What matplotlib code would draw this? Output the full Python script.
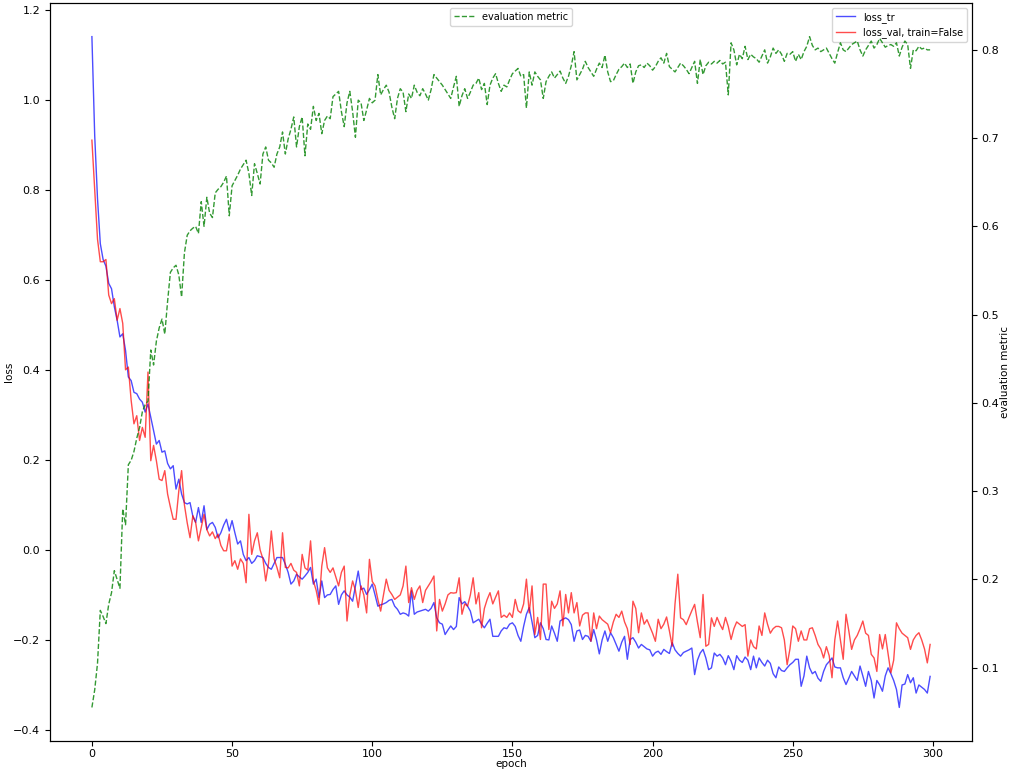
import numpy as np
import matplotlib
matplotlib.use("Agg")
import matplotlib.pyplot as plt

# values, one row = 10 epochs
loss_tr = [
    1.14, 0.92, 0.78, 0.68, 0.645, 0.63, 0.592, 0.58, 0.54, 0.51,
    0.473, 0.48, 0.443, 0.384, 0.376, 0.35, 0.347, 0.335, 0.328, 0.306,
    0.324, 0.295, 0.265, 0.235, 0.243, 0.217, 0.22, 0.192, 0.18, 0.187,
    0.135, 0.157, 0.124, 0.105, 0.102, 0.105, 0.075, 0.061, 0.094, 0.061,
    0.098, 0.045, 0.057, 0.061, 0.05, 0.027, 0.038, 0.055, 0.068, 0.042,
    0.065, 0.038, 0.013, 0.02, -0.01, -0.024, -0.017, -0.03, -0.024, -0.013,
    -0.015, -0.017, -0.03, -0.039, -0.043, -0.03, -0.017, -0.017, -0.017, -0.032,
    -0.05, -0.076, -0.069, -0.054, -0.06, -0.065, -0.058, -0.05, -0.039, -0.076,
    -0.065, -0.106, -0.069, -0.106, -0.1, -0.099, -0.088, -0.08, -0.121, -0.1,
    -0.091, -0.1, -0.105, -0.114, -0.08, -0.047, -0.088, -0.085, -0.099, -0.088,
    -0.076, -0.1, -0.125, -0.122, -0.12, -0.117, -0.112, -0.11, -0.125, -0.132,
    -0.143, -0.14, -0.142, -0.147, -0.091, -0.143, -0.138, -0.136, -0.134, -0.132,
    -0.136, -0.13, -0.117, -0.151, -0.162, -0.165, -0.188, -0.178, -0.169, -0.177,
    -0.17, -0.106, -0.12, -0.115, -0.125, -0.136, -0.162, -0.158, -0.154, -0.165,
    -0.173, -0.163, -0.154, -0.192, -0.192, -0.192, -0.18, -0.173, -0.175, -0.165,
    -0.162, -0.17, -0.19, -0.203, -0.17, -0.143, -0.128, -0.16, -0.195, -0.19,
    -0.162, -0.175, -0.199, -0.2, -0.169, -0.185, -0.203, -0.158, -0.154, -0.151,
    -0.155, -0.166, -0.203, -0.18, -0.178, -0.199, -0.19, -0.192, -0.203, -0.177,
    -0.2, -0.231, -0.2, -0.18, -0.203, -0.184, -0.195, -0.21, -0.225, -0.205,
    -0.192, -0.243, -0.199, -0.195, -0.205, -0.218, -0.21, -0.215, -0.22, -0.222,
    -0.236, -0.228, -0.225, -0.232, -0.221, -0.226, -0.23, -0.206, -0.222, -0.23,
    -0.236, -0.228, -0.225, -0.222, -0.218, -0.277, -0.245, -0.229, -0.221, -0.24,
    -0.266, -0.262, -0.229, -0.236, -0.232, -0.24, -0.255, -0.235, -0.247, -0.266,
    -0.235, -0.245, -0.25, -0.238, -0.245, -0.266, -0.236, -0.262, -0.24, -0.25,
    -0.258, -0.245, -0.252, -0.275, -0.284, -0.26, -0.268, -0.27, -0.262, -0.255,
    -0.25, -0.243, -0.243, -0.303, -0.28, -0.236, -0.262, -0.275, -0.27, -0.285,
    -0.292, -0.27, -0.255, -0.248, -0.24, -0.26, -0.262, -0.262, -0.284, -0.299,
    -0.285, -0.27, -0.28, -0.29, -0.258, -0.28, -0.303, -0.27, -0.29, -0.329,
    -0.29, -0.3, -0.314, -0.28, -0.262, -0.275, -0.29, -0.31, -0.35, -0.3,
    -0.298, -0.277, -0.295, -0.284, -0.318, -0.3, -0.305, -0.31, -0.318, -0.281,
]

loss_val = [
    0.91, 0.8, 0.69, 0.64, 0.64, 0.645, 0.566, 0.547, 0.558, 0.51,
    0.536, 0.503, 0.4, 0.406, 0.332, 0.28, 0.298, 0.243, 0.272, 0.25,
    0.395, 0.198, 0.232, 0.198, 0.157, 0.154, 0.176, 0.124, 0.095, 0.068,
    0.068, 0.131, 0.176, 0.1, 0.06, 0.027, 0.076, 0.061, 0.02, 0.05,
    0.079, 0.045, 0.031, 0.04, 0.025, 0.035, 0.01, -0.002, -0.002, 0.035,
    -0.036, -0.024, -0.043, -0.02, -0.03, -0.073, 0.079, -0.01, 0.02, 0.038,
    0.0, -0.02, -0.069, -0.03, 0.042, -0.02, -0.039, -0.062, 0.038, -0.039,
    -0.04, -0.03, -0.045, -0.05, -0.08, -0.01, -0.04, -0.045, 0.02, -0.069,
    -0.09, -0.121, -0.036, 0.005, -0.04, -0.05, -0.04, -0.06, -0.08, -0.05,
    -0.036, -0.158, -0.1, -0.069, -0.09, -0.128, -0.08, -0.1, -0.14, -0.021,
    -0.07, -0.08, -0.11, -0.136, -0.1, -0.065, -0.09, -0.099, -0.11, -0.105,
    -0.1, -0.08, -0.036, -0.117, -0.084, -0.11, -0.09, -0.08, -0.117, -0.09,
    -0.08, -0.07, -0.058, -0.18, -0.11, -0.136, -0.12, -0.1, -0.095, -0.096,
    -0.095, -0.062, -0.143, -0.12, -0.125, -0.1, -0.062, -0.12, -0.095, -0.173,
    -0.13, -0.11, -0.095, -0.12, -0.105, -0.091, -0.15, -0.145, -0.15, -0.14,
    -0.15, -0.11, -0.135, -0.14, -0.12, -0.065, -0.14, -0.08, -0.188, -0.15,
    -0.199, -0.076, -0.076, -0.177, -0.114, -0.13, -0.12, -0.091, -0.169, -0.099,
    -0.14, -0.095, -0.14, -0.117, -0.169, -0.145, -0.14, -0.14, -0.203, -0.14,
    -0.175, -0.147, -0.155, -0.16, -0.165, -0.184, -0.16, -0.143, -0.15, -0.136,
    -0.16, -0.175, -0.21, -0.114, -0.13, -0.184, -0.14, -0.165, -0.155, -0.17,
    -0.185, -0.203, -0.154, -0.175, -0.165, -0.149, -0.18, -0.214, -0.12, -0.054,
    -0.151, -0.155, -0.166, -0.15, -0.135, -0.121, -0.16, -0.195, -0.099, -0.214,
    -0.21, -0.151, -0.17, -0.15, -0.165, -0.177, -0.15, -0.17, -0.199, -0.175,
    -0.16, -0.165, -0.17, -0.166, -0.236, -0.2, -0.215, -0.22, -0.169, -0.19,
    -0.14, -0.165, -0.185, -0.175, -0.17, -0.17, -0.173, -0.2, -0.255, -0.22,
    -0.169, -0.175, -0.203, -0.18, -0.2, -0.2, -0.175, -0.173, -0.19, -0.21,
    -0.22, -0.24, -0.215, -0.235, -0.284, -0.2, -0.158, -0.2, -0.243, -0.143,
    -0.18, -0.221, -0.2, -0.19, -0.175, -0.158, -0.185, -0.19, -0.232, -0.24,
    -0.27, -0.188, -0.22, -0.188, -0.23, -0.273, -0.245, -0.162, -0.175, -0.185,
    -0.19, -0.195, -0.221, -0.2, -0.19, -0.184, -0.2, -0.22, -0.251, -0.21,
]

metric = [
    0.055, 0.075, 0.105, 0.165, 0.158, 0.15, 0.172, 0.185, 0.21, 0.2,
    0.19, 0.28, 0.262, 0.33, 0.335, 0.345, 0.36, 0.372, 0.39, 0.398,
    0.402, 0.46, 0.443, 0.47, 0.485, 0.495, 0.478, 0.515, 0.548, 0.553,
    0.556, 0.545, 0.52, 0.57, 0.59, 0.595, 0.598, 0.6, 0.592, 0.628,
    0.6, 0.633, 0.615, 0.61, 0.638, 0.642, 0.645, 0.65, 0.657, 0.612,
    0.646, 0.652, 0.658, 0.665, 0.67, 0.675, 0.66, 0.635, 0.671, 0.66,
    0.648, 0.682, 0.69, 0.675, 0.672, 0.667, 0.682, 0.69, 0.707, 0.682,
    0.699, 0.71, 0.724, 0.69, 0.713, 0.724, 0.68, 0.716, 0.71, 0.736,
    0.72, 0.728, 0.705, 0.72, 0.725, 0.722, 0.747, 0.75, 0.753, 0.73,
    0.713, 0.74, 0.753, 0.73, 0.701, 0.743, 0.74, 0.72, 0.732, 0.745,
    0.74, 0.743, 0.772, 0.749, 0.755, 0.76, 0.752, 0.735, 0.722, 0.745,
    0.756, 0.752, 0.73, 0.75, 0.745, 0.76, 0.752, 0.748, 0.756, 0.75,
    0.743, 0.755, 0.772, 0.768, 0.764, 0.76, 0.755, 0.75, 0.745, 0.758,
    0.77, 0.736, 0.748, 0.756, 0.745, 0.752, 0.76, 0.762, 0.768, 0.755,
    0.762, 0.738, 0.76, 0.768, 0.773, 0.762, 0.753, 0.76, 0.758, 0.766,
    0.773, 0.776, 0.779, 0.77, 0.772, 0.734, 0.775, 0.76, 0.775, 0.77,
    0.766, 0.745, 0.764, 0.77, 0.775, 0.768, 0.772, 0.776, 0.768, 0.762,
    0.77, 0.782, 0.798, 0.766, 0.772, 0.778, 0.787, 0.78, 0.775, 0.77,
    0.778, 0.785, 0.78, 0.794, 0.775, 0.764, 0.765, 0.772, 0.778, 0.781,
    0.785, 0.78, 0.784, 0.762, 0.775, 0.782, 0.783, 0.78, 0.785, 0.782,
    0.777, 0.781, 0.787, 0.791, 0.785, 0.796, 0.781, 0.778, 0.775, 0.78,
    0.785, 0.782, 0.778, 0.773, 0.78, 0.787, 0.762, 0.789, 0.772, 0.782,
    0.786, 0.784, 0.787, 0.785, 0.788, 0.784, 0.786, 0.749, 0.808, 0.8,
    0.783, 0.795, 0.79, 0.804, 0.789, 0.795, 0.792, 0.79, 0.786, 0.793,
    0.8, 0.785, 0.792, 0.802, 0.796, 0.8, 0.795, 0.787, 0.796, 0.795,
    0.798, 0.787, 0.795, 0.789, 0.798, 0.804, 0.815, 0.805, 0.8, 0.802,
    0.798, 0.8, 0.802, 0.796, 0.79, 0.785, 0.797, 0.808, 0.8, 0.798,
    0.802, 0.806, 0.808, 0.81, 0.8, 0.793, 0.8, 0.805, 0.81, 0.802,
    0.806, 0.813, 0.808, 0.803, 0.805, 0.806, 0.804, 0.808, 0.793, 0.803,
    0.81, 0.806, 0.779, 0.8, 0.799, 0.804, 0.801, 0.802, 0.8, 0.8,
]

epochs = np.arange(len(loss_tr))

plt.rcParams["font.size"] = 8
plt.rcParams["legend.fontsize"] = 7
fig, ax1 = plt.subplots(figsize=(10.12, 7.69), dpi=100)
fig.subplots_adjust(left=0.0494, right=0.9605, bottom=0.0364, top=0.996)

ax1.plot(epochs, loss_tr, "b", alpha=0.7, linewidth=1, label="loss_tr")
ax1.plot(epochs, loss_val, "r", alpha=0.7, linewidth=1, label="loss_val, train=False")
ax1.tick_params(axis="x", pad=2)
ax1.set_xlabel("epoch", fontsize=7.5)
ax1.set_ylabel("loss", fontsize=7.5)
ax1.xaxis.set_label_coords(0.5, -0.025)
ax1.yaxis.set_label_coords(-0.039, 0.5)
ax1.legend(loc="upper right")

ax2 = ax1.twinx()
ax2.plot(epochs, metric, "g--", alpha=0.8, linewidth=1, label="evaluation metric")
ax2.set_ylabel("evaluation metric", fontsize=7.5)
ax2.yaxis.set_label_coords(1.030, 0.5)
ax2.legend(loc="upper center")

fig.savefig("out.png")
